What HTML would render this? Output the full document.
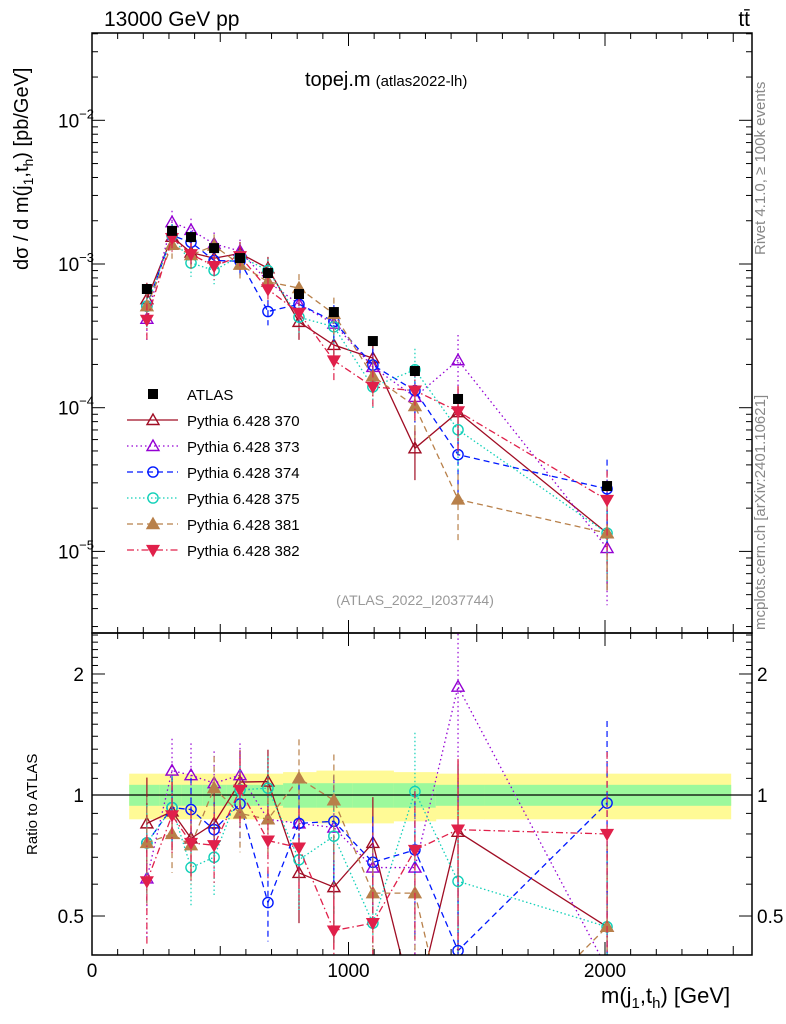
<!DOCTYPE html>
<html><head><meta charset="utf-8"><style>
html,body{margin:0;background:#fff;overflow:hidden;width:786px;height:1024px;}
svg{display:block;font-family:"Liberation Sans",sans-serif;}
</style></head><body>
<svg id="c" width="786" height="1024" viewBox="0 0 786 1024"></svg>
<script>
const xs=[214,312,386,476,577,686,807,943,1095,1259,1427,2008];
const edges=[145,262,350,430,525,630,745,875,1015,1175,1340,1530,2490];
const atlas=[6.7e-4,1.70e-3,1.54e-3,1.29e-3,1.10e-3,8.65e-4,6.18e-4,4.63e-4,2.91e-4,1.80e-4,1.15e-4,2.85e-5];
const r370=[0.85,0.91,0.78,0.85,1.077,1.08,0.64,0.59,0.76,0.29,0.81,0.47];
const r373=[0.62,1.15,1.12,1.07,1.12,0.87,0.85,0.83,0.66,0.66,1.86,0.37];
const r374=[0.76,0.93,0.92,0.82,0.95,0.54,0.85,0.86,0.68,0.73,0.41,0.955];
const r375=[0.76,0.93,0.66,0.70,1.03,1.04,0.69,0.79,0.48,1.02,0.61,0.47];
const r381=[0.76,0.80,0.75,1.04,0.90,0.87,1.10,0.97,0.57,0.57,0.20,0.47];
const r382=[0.61,0.89,0.76,0.75,1.03,0.77,0.74,0.46,0.48,0.73,0.82,0.80];
const relErr=[0.3,0.2,0.2,0.2,0.2,0.2,0.25,0.3,0.3,0.4,0.5,0.6];
const bandIn=[0.06,0.06,0.06,0.06,0.06,0.06,0.07,0.07,0.07,0.07,0.06,0.06];
const bandOut=[0.13,0.13,0.13,0.13,0.13,0.13,0.14,0.15,0.15,0.14,0.13,0.13];
const xTicks=["0","1000","2000"];
const series=[
 {name:"Pythia 6.428 370",r:r370,col:"#a00d24",dash:"",m:"tu"},
 {name:"Pythia 6.428 373",r:r373,col:"#9400d3",dash:"1.5,3",m:"tu"},
 {name:"Pythia 6.428 374",r:r374,col:"#0018ff",dash:"6,4",m:"co"},
 {name:"Pythia 6.428 375",r:r375,col:"#10d0b8",dash:"1.5,2.5",m:"co"},
 {name:"Pythia 6.428 381",r:r381,col:"#b8804a",dash:"6,4",m:"tf"},
 {name:"Pythia 6.428 382",r:r382,col:"#e0204a",dash:"7,3,1.5,3",m:"tdf"}];
const NS="http://www.w3.org/2000/svg";
const svg=document.getElementById('c');
const L=92,R=752,T=33,M=633,B=955;
const X=v=>L+v*0.2565;
const Y=v=>264-(Math.log10(v)+3)*143.7;
const YR=v=>795-Math.log10(v)*402;
function el(t,a,p){const e=document.createElementNS(NS,t);for(const k in a)e.setAttribute(k,a[k]);(p||svg).appendChild(e);return e;}
function txt(s,a,p){const e=el('text',a,p);e.textContent=s;return e;}
const clipM=el('clipPath',{id:'cm'});el('rect',{x:L,y:T,width:R-L,height:M-T},clipM);
const clipR=el('clipPath',{id:'cr'});el('rect',{x:L,y:M,width:R-L,height:B-M},clipR);
const gb=el('g',{'clip-path':'url(#cr)'});

for(let i=0;i<xs.length;i++){
 el('rect',{x:X(edges[i]),y:YR(1+bandOut[i]),width:X(edges[i+1])-X(edges[i])+0.5,height:YR(1-bandOut[i])-YR(1+bandOut[i]),fill:'#fffa96'},gb);
 el('rect',{x:X(edges[i]),y:YR(1+bandIn[i]),width:X(edges[i+1])-X(edges[i])+0.5,height:YR(1-bandIn[i])-YR(1+bandIn[i]),fill:'#9cf99c'},gb);
}
el('line',{x1:L,x2:R,y1:YR(1),y2:YR(1),stroke:'#000','stroke-width':1.2});
function marker(g,type,x,y,col,s){
 s=s||6;
 if(type=='tu'||type=='tf'){el('polygon',{points:`${x},${y-s} ${x-s},${y+s*0.75} ${x+s},${y+s*0.75}`,fill:type=='tf'?col:'none',stroke:col,'stroke-width':1.4},g);}
 else if(type=='tdf'){el('polygon',{points:`${x},${y+s} ${x-s},${y-s*0.75} ${x+s},${y-s*0.75}`,fill:col,stroke:col,'stroke-width':1.2},g);}
 else if(type=='co'){el('circle',{cx:x,cy:y,r:s*0.85,fill:'none',stroke:col,'stroke-width':1.4},g);}
 else if(type=='sq'){el('rect',{x:x-5,y:y-5,width:10,height:10,fill:col},g);}
}
function drawSeries(s,ratio){
 const g=el('g',{'clip-path':ratio?'url(#cr)':'url(#cm)'});
 
 
 const vals=xs.map((x,i)=>ratio?s.r[i]:s.r[i]*atlas[i]);
 const Yf=ratio?YR:Y;
 el('polyline',{points:xs.map((x,i)=>X(x)+','+Yf(vals[i])).join(' '),fill:'none',stroke:s.col,'stroke-width':1.3,'stroke-dasharray':s.dash},g);
 xs.forEach((x,i)=>{const v=vals[i],e=relErr[i];
  el('line',{x1:X(x),x2:X(x),y1:Yf(v*(1+e)),y2:Yf(Math.max(v*(1-e),1e-9)),stroke:s.col,'stroke-width':1.2,'stroke-dasharray':s.dash},g);
  marker(g,s.m,X(x),Yf(v),s.col);});
}
series.forEach(s=>drawSeries(s,false));
const ga=el('g',{'clip-path':'url(#cm)'});

xs.forEach((x,i)=>{el('line',{x1:X(x),x2:X(x),y1:Y(atlas[i]*1.05),y2:Y(atlas[i]*0.95),stroke:'#000'},ga);marker(ga,'sq',X(x),Y(atlas[i]),'#000');});
series.forEach(s=>drawSeries(s,true));
el('rect',{x:L,y:T,width:R-L,height:M-T,fill:'none',stroke:'#000','stroke-width':1.5});
el('rect',{x:L,y:M,width:R-L,height:B-M,fill:'none',stroke:'#000','stroke-width':1.5});
for(let v=0;v<=2500;v+=100){const x=X(v),len=v%1000==0?13:(v%500==0?9:6);
 [[T,1],[M,-1],[M,1],[B,-1]].forEach(([y,d])=>el('line',{x1:x,x2:x,y1:y,y2:y+d*len,stroke:'#000'}));}
xTicks.forEach(t=>{const e=txt(t,{x:X(+t),y:977,'font-size':19,'text-anchor':'middle'});});
for(let d=-6;d<=-1;d++)for(let k=1;k<10;k++){const v=k*Math.pow(10,d),y=Y(v);if(y<T||y>M)continue;const len=k==1?13:6;
 el('line',{x1:L,x2:L+len,y1:y,y2:y,stroke:'#000'});el('line',{x1:R,x2:R-len,y1:y,y2:y,stroke:'#000'});
 if(k==1){const e=txt('10',{x:58,y:y+7,'font-size':19},svg);
  const sp=el('tspan',{dy:-9,'font-size':13},e);sp.textContent='−'+(-d);}}
for(let k=0.4;k<=2.55;k+=0.1){const y=YR(k);if(y<M||y>B)continue;const maj=[0.5,1,2].some(m=>Math.abs(m-k)<1e-6);const len=maj?13:6;
 el('line',{x1:L,x2:L+len,y1:y,y2:y,stroke:'#000'});el('line',{x1:R,x2:R-len,y1:y,y2:y,stroke:'#000'});}
[["2",2],["1",1],["0.5",0.5]].forEach(([s,v])=>{
 const a=txt(s,{x:84,y:YR(v)+7,'font-size':19,'text-anchor':'end'});
 const b=txt(s,{x:757,y:YR(v)+7,'font-size':19});});
function T2(s,a,name){const e=txt(s,a);return e;}
T2('13000 GeV pp',{x:104,y:26,'font-size':21},'energy-label');
T2('tt̄',{x:750,y:26,'font-size':21,'text-anchor':'end'},'process-label');
const ti=T2('topej.m',{x:305,y:86,'font-size':20},'plot-title');const ts=el('tspan',{'font-size':15,dx:5},ti);ts.textContent='(atlas2022-lh)';
T2('(ATLAS_2022_I2037744)',{x:415,y:605,'font-size':14,fill:'#999','text-anchor':'middle'},'analysis-id');
T2('Rivet 4.1.0, ≥ 100k events',{x:0,y:0,'font-size':15,fill:'#888',transform:'translate(765,255) rotate(-90)'},'rivet-label');
T2('mcplots.cern.ch [arXiv:2401.10621]',{x:0,y:0,'font-size':15,fill:'#888',transform:'translate(765,630) rotate(-90)'},'mcplots-label');
const yl=T2('dσ / d m(j',{x:0,y:0,'font-size':20,transform:'translate(28,270) rotate(-90)'},'y-axis-title');
[['1',5,14],[',t',-5,20],['h',5,14],[') [pb/GeV]',-5,20]].forEach(([s,dy,fs])=>{const t=el('tspan',{dy:dy,'font-size':fs},yl);t.textContent=s;});
T2('Ratio to ATLAS',{x:0,y:0,'font-size':15,transform:'translate(37,855) rotate(-90)'},'ratio-axis-title');
const xl=T2('m(j',{x:601,y:1003,'font-size':22},'x-axis-title');
[['1',5,15],[',t',-5,22],['h',5,15],[') [GeV]',-5,22]].forEach(([s,dy,fs])=>{const t=el('tspan',{dy:dy,'font-size':fs},xl);t.textContent=s;});
const lg=el('g',{});
const le0=el('g',{},lg);
marker(le0,'sq',153,394,'#000');txt('ATLAS',{x:187,y:400,'font-size':15},le0);
series.forEach((s,i)=>{const y=420+i*26;const g=el('g',{},lg);
 
 el('line',{x1:127,x2:178,y1:y,y2:y,stroke:s.col,'stroke-width':1.3,'stroke-dasharray':s.dash},g);
 marker(g,s.m,153,y,s.col);txt(s.name,{x:187,y:y+6,'font-size':15},g);});
</script>
</body></html>
